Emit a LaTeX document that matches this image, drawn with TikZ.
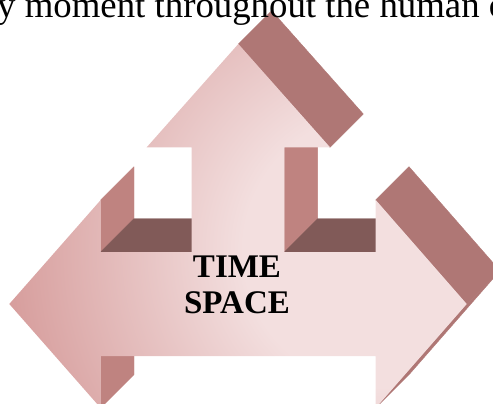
\documentclass[tikz,border=0pt]{standalone}
\usepackage{fontspec}
\setmainfont{Liberation Serif}
\definecolor{frontlight}{HTML}{F3DFDF}
\definecolor{frontdark}{HTML}{D69C9B}
\definecolor{sidemid}{HTML}{BF8380}
\definecolor{sidedark}{HTML}{815A58}
\definecolor{sidehead}{HTML}{AF7775}
\pgfdeclareradialshading{frontshade}{\pgfpoint{0bp}{0bp}}{color(0bp)=(frontlight); color(9bp)=(frontlight); color(25bp)=(frontdark); color(50bp)=(frontdark)}
\begin{document}
\begin{tikzpicture}[x=1pt,y=-1pt,
  facemid/.style={fill=sidemid,draw=sidemid,line width=0.4pt,line join=round},
  facedark/.style={fill=sidedark,draw=sidedark,line width=0.4pt,line join=round},
  facehead/.style={fill=sidehead,draw=sidehead,line width=0.4pt,line join=round},
  label/.style={inner sep=0pt,anchor=base,font=\fontsize{33}{37}\selectfont\bfseries}]
\useasboundingbox (0,0) rectangle (493,404);
\clip (0,0) rectangle (493,404);
% side faces (extrusion offset (33.3,-33.3))
\filldraw[facemid] (100.7,200) -- (100.7,252) -- (134,218.7) -- (134,166.7) -- cycle;
\filldraw[facedark] (100.7,252) -- (191.7,252) -- (225,218.7) -- (134,218.7) -- cycle;
\filldraw[facemid] (100.7,356) -- (100.7,408) -- (134,374.7) -- (134,322.7) -- cycle;
\filldraw[facemid] (284.3,147.3) -- (284.3,252) -- (317.6,218.7) -- (317.6,114) -- cycle;
\filldraw[facedark] (284.3,252) -- (375.7,252) -- (409,218.7) -- (317.6,218.7) -- cycle;
\filldraw[facehead] (466.7,304) -- (375.7,408) -- (409,374.7) -- (500,270.7) -- cycle;
\filldraw[facehead] (375.7,200) -- (466.7,304) -- (500,270.7) -- (409,166.7) -- cycle;
\filldraw[facehead] (238.3,44) -- (330,147.3) -- (363.3,114) -- (271.6,10.7) -- cycle;
% front face
\begin{scope}
\clip (9.3,304) -- (100.7,200) -- (100.7,252) -- (191.7,252) -- (191.7,147.3)
  -- (146.7,147.3) -- (238.3,44) -- (330,147.3) -- (284.3,147.3) -- (284.3,252)
  -- (375.7,252) -- (375.7,200) -- (466.7,304) -- (375.7,408) -- (375.7,356)
  -- (100.7,356) -- (100.7,408) -- cycle;
\shade[shading=frontshade] (380,250) circle (380pt);
\end{scope}
% texts
\node[label] (time) at (237,277) {TIME};
\node[label] (space) at (237,313) {SPACE};
\node[inner sep=0pt,anchor=base west,font=\fontsize{36.8}{40}\selectfont] (top) at (-3,18) {y moment throughout the human c};
\end{tikzpicture}
\end{document}
